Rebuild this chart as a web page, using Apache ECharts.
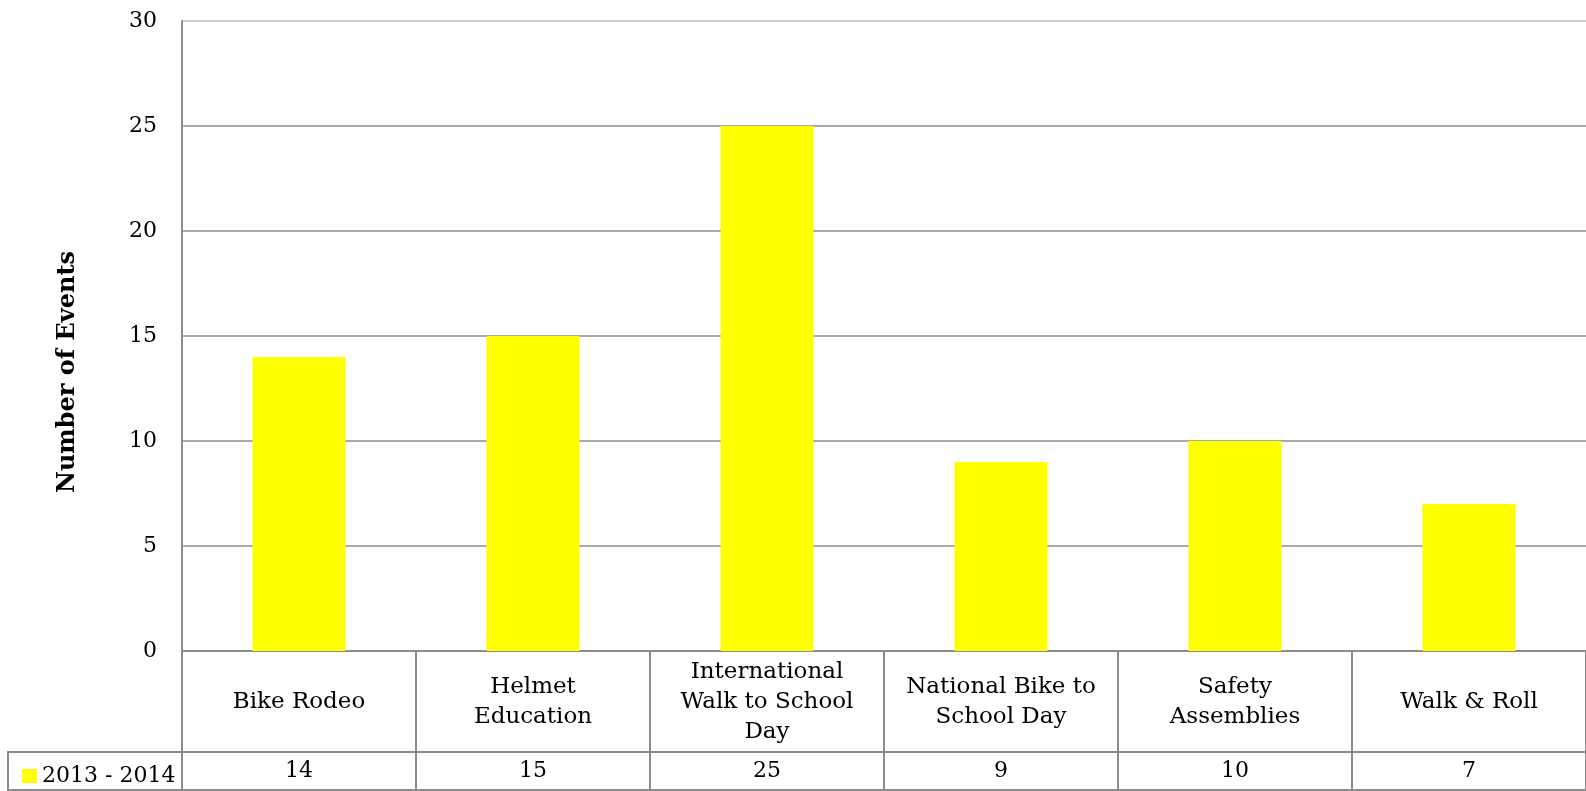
<!DOCTYPE html>
<html>
<head>
<meta charset="utf-8">
<script src="https://cdn.jsdelivr.net/npm/echarts@6/dist/echarts.min.js"></script>
<style>
html,body{margin:0;padding:0;background:#fff;}
#chart{width:1586px;height:791px;}
</style>
</head>
<body>
<div id="chart"></div>
<script>
const categories = ['Bike Rodeo', 'Helmet\nEducation', 'International\nWalk to School\nDay', 'National Bike to\nSchool Day', 'Safety\nAssemblies', 'Walk & Roll'];
const values = [14, 15, 25, 9, 10, 7];
const seriesName = '2013 - 2014';
const yAxisTitle = 'Number of Events';
const yMin = 0, yMax = 30, yInterval = 5;

const FONT = 'DejaVu Serif';
const LINE = '#8c8c8c';

const chart = echarts.init(document.getElementById('chart'));
chart.setOption({
  animation: false,
  backgroundColor: '#ffffff',
  grid: { left: 182, top: 21, width: 1410, bottom: 140, containLabel: false },
  legend: {
    data: [seriesName],
    left: 17, top: 760,
    itemWidth: 15, itemHeight: 14, itemGap: 5,
    icon: 'rect',
    textStyle: { fontFamily: FONT, fontSize: 22, color: '#000' }
  },
  graphic: [
    {
      type: 'rect',
      shape: { x: 8, y: 752, width: 174, height: 38 },
      style: { fill: 'none', stroke: LINE, lineWidth: 2 },
      z: 0
    },
    {
      type: 'text',
      x: 68, y: 372,
      rotation: Math.PI / 2,
      style: {
        text: yAxisTitle,
        fontFamily: FONT, fontSize: 24, fontWeight: 'bold',
        fill: '#000', align: 'center', verticalAlign: 'middle'
      }
    }
  ],
  xAxis: [
    {
      type: 'category',
      data: categories,
      position: 'bottom',
      axisLine: { show: true, lineStyle: { color: LINE, width: 2 } },
      axisTick: { show: true, length: 139, interval: 0, lineStyle: { color: LINE, width: 2 } },
      axisLabel: {
        interval: 0, margin: 51, verticalAlign: 'middle', align: 'center',
        lineHeight: 30, fontFamily: FONT, fontSize: 23, color: '#000'
      },
      splitLine: { show: false }
    },
    {
      type: 'category',
      data: values.map(String),
      position: 'bottom',
      offset: 101,
      axisLine: { show: true, lineStyle: { color: LINE, width: 2 } },
      axisTick: { show: false },
      axisLabel: {
        interval: 0, margin: 19, verticalAlign: 'middle',
        fontFamily: FONT, fontSize: 22, color: '#000'
      }
    },
    {
      type: 'category',
      data: values.map(String),
      position: 'bottom',
      offset: 139,
      axisLine: { show: true, lineStyle: { color: LINE, width: 2 } },
      axisTick: { show: false },
      axisLabel: { show: false }
    }
  ],
  yAxis: {
    type: 'value',
    min: yMin, max: yMax, interval: yInterval,
    axisLine: { show: true, lineStyle: { color: LINE, width: 2 } },
    axisTick: { show: false },
    axisLabel: { margin: 25, fontFamily: FONT, fontSize: 22, color: '#000' },
    splitLine: {
      show: true,
      lineStyle: { color: [LINE, LINE, LINE, LINE, LINE, LINE, '#c0c0c0'], width: 1.5 }
    }
  },
  series: [
    {
      name: seriesName,
      type: 'bar',
      xAxisIndex: 0,
      data: values,
      barWidth: 93,
      itemStyle: { color: '#ffff00' }
    }
  ]
});
</script>
</body>
</html>
